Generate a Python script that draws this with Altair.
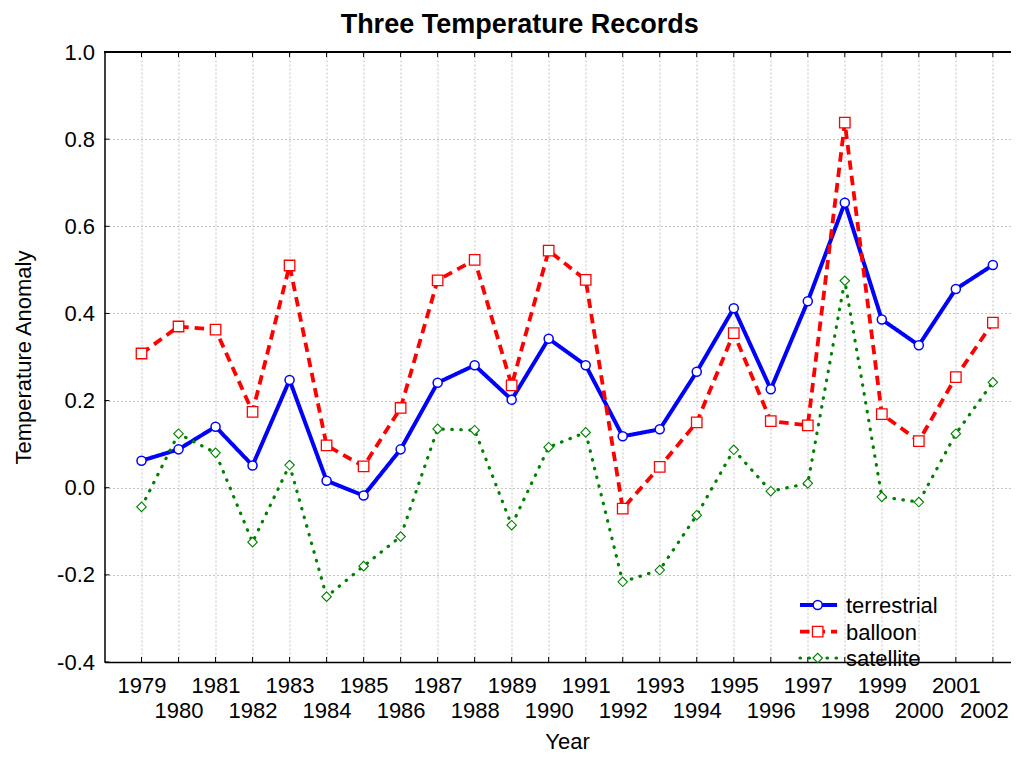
import altair as alt
import pandas as pd

# ---------------- data ----------------
YEARS = [1979, 1980, 1981, 1982, 1983, 1984, 1985, 1986, 1987, 1988, 1989, 1990,
         1991, 1992, 1993, 1994, 1995, 1996, 1997, 1998, 1999, 2000, 2001, 2002]
TERRESTRIAL = [0.062, 0.088, 0.140, 0.051, 0.247, 0.016, -0.018, 0.088,
               0.241, 0.281, 0.202, 0.342, 0.281, 0.118, 0.134, 0.266,
               0.412, 0.226, 0.428, 0.654, 0.386, 0.327, 0.456, 0.511]
BALLOON = [0.308, 0.370, 0.363, 0.174, 0.510, 0.097, 0.049, 0.183,
           0.476, 0.523, 0.235, 0.544, 0.477, -0.048, 0.048, 0.150,
           0.355, 0.153, 0.143, 0.838, 0.169, 0.107, 0.254, 0.379]
SATELLITE = [-0.044, 0.124, 0.080, -0.125, 0.052, -0.250, -0.180, -0.112,
             0.135, 0.132, -0.086, 0.093, 0.127, -0.216, -0.189, -0.063,
             0.087, -0.008, 0.010, 0.475, -0.021, -0.033, 0.124, 0.242]
SERIES = ["terrestrial", "balloon", "satellite"]
Y_TICKS = [-0.4, -0.2, 0.0, 0.2, 0.4, 0.6, 0.8, 1.0]

TITLE = "Three Temperature Records"
X_TITLE = "Year"
Y_TITLE = "Temperature Anomaly"

# ---------------- styles ----------------
FONT = "Liberation Sans"
W, H = 906.5, 610
STYLES = {
    "terrestrial": dict(color="#0000ff", width=4, dash=[1, 0], cap="butt",
                        shape="circle", size=82, mw=1.5),
    "balloon": dict(color="#ff0000", width=3.8, dash=[9.5, 6], cap="butt",
                    shape="square", size=110, mw=1.3),
    "satellite": dict(color="#008000", width=3.2, dash=[0.5, 8.5], cap="round",
                      shape="diamond", size=90, mw=1.1),
}
LEGEND_Y = [553, 579.7, 606]

x_scale = alt.Scale(domain=[1978, 2002.49], nice=False, zero=False)
y_scale = alt.Scale(domain=[-0.4, 1.0], nice=False, zero=False)

x_label_expr = "datum.value % 2 == 0 ? ['', toString(datum.value)] : toString(datum.value)"

x_axis = alt.Axis(
    values=YEARS, title=X_TITLE, grid=True, ticks=False,
    labelExpr=x_label_expr,
    labelOverlap=False, labelFlush=False, labelBound=False,
    labelOffset={"condition": {"test": f"datum.value == {YEARS[-1]}", "value": -9},
                 "value": 0},
    labelPadding=13, labelBaseline="top", labelLineHeight=25.7, labelFontSize=22,
    titleX=462.5, titleY=86, titleBaseline="alphabetic", titleAlign="center",
    titleFontSize=22, titleFontWeight="normal",
)
y_axis = alt.Axis(
    values=Y_TICKS, title=Y_TITLE, grid=True, ticks=False,
    labelExpr="(datum.value < 0 ? '-' : '') + format(abs(datum.value), '.1f')",
    labelOverlap=False, labelFlush=False, labelBound=False,
    labelPadding=10, labelFontSize=22,
    titleX=-74, titleY=305, titleAngle=270, titleBaseline="alphabetic",
    titleAlign="center", titleFontSize=22, titleFontWeight="normal",
)

X = alt.X("year:Q", scale=x_scale, axis=x_axis)
Y = alt.Y("value:Q", scale=y_scale, axis=y_axis)

layers = []

# frame ticks (inward) and top border
years_df = pd.DataFrame({"year": YEARS})
yt_df = pd.DataFrame({"value": Y_TICKS})
layers.append(alt.Chart(years_df).mark_rule(color="black", strokeWidth=1).encode(
    x=X, y=alt.value(H - 5), y2=alt.value(H)))
layers.append(alt.Chart(years_df).mark_rule(color="black", strokeWidth=1).encode(
    x=X, y=alt.value(0), y2=alt.value(5)))
layers.append(alt.Chart(yt_df).mark_rule(color="black", strokeWidth=1).encode(
    y=Y, x=alt.value(0), x2=alt.value(5)))
layers.append(alt.Chart(years_df).mark_rule(color="black", strokeWidth=1.5).encode(
    x=alt.value(0), x2=alt.value(W), y=alt.value(0)))

# data series
for name, vals in zip(SERIES, [TERRESTRIAL, BALLOON, SATELLITE]):
    st = STYLES[name]
    df = pd.DataFrame({"year": YEARS, "value": vals, "series": name})
    layers.append(alt.Chart(df).mark_line(
        color=st["color"], strokeWidth=st["width"], strokeDash=st["dash"],
        strokeCap=st["cap"]).encode(x=X, y=Y))
    layers.append(alt.Chart(df).mark_point(
        shape=st["shape"], size=st["size"], filled=True, fill="white",
        stroke=st["color"], strokeWidth=st["mw"], opacity=1).encode(x=X, y=Y))

# legend (inside plot, lower right)
for i, name in enumerate(SERIES):
    st = STYLES[name]
    ldf = pd.DataFrame({"series": [name]})
    ly = LEGEND_Y[i]
    layers.append(alt.Chart(ldf).mark_rule(
        color=st["color"], strokeWidth=st["width"], strokeDash=st["dash"],
        strokeCap=st["cap"]).encode(x=alt.value(695.5), x2=alt.value(732.5), y=alt.value(ly)))
    layers.append(alt.Chart(ldf).mark_point(
        shape=st["shape"], size=st["size"], filled=True, fill="white",
        stroke=st["color"], strokeWidth=st["mw"], opacity=1).encode(
        x=alt.value(713.2), y=alt.value(ly)))
    layers.append(alt.Chart(ldf).mark_text(
        align="left", baseline="middle", fontSize=22, font=FONT, color="black").encode(
        x=alt.value(741.5), y=alt.value(ly + 1.3), text="series:N"))

# chart title
tdf = pd.DataFrame({"title": [TITLE]})
layers.append(alt.Chart(tdf).mark_text(
    align="center", baseline="alphabetic", fontSize=27, fontWeight="bold",
    font=FONT, color="black").encode(
    x=alt.value(415.2), y=alt.value(-19.5), text="title:N"))

chart = alt.layer(*layers).properties(
    width=W, height=H,
    autosize=alt.AutoSizeParams(type="none"),
    padding={"left": 96.5, "top": 44, "right": 0, "bottom": 91},
).configure_view(stroke=None).configure_axis(
    domainColor="black", domainWidth=1.5, gridColor="#c4c4c4", gridDash=[2, 2],
    gridWidth=1, labelColor="black", titleColor="black", labelFont=FONT, titleFont=FONT,
)

chart.save("out.html", embed_options={"renderer": "svg", "actions": False})
